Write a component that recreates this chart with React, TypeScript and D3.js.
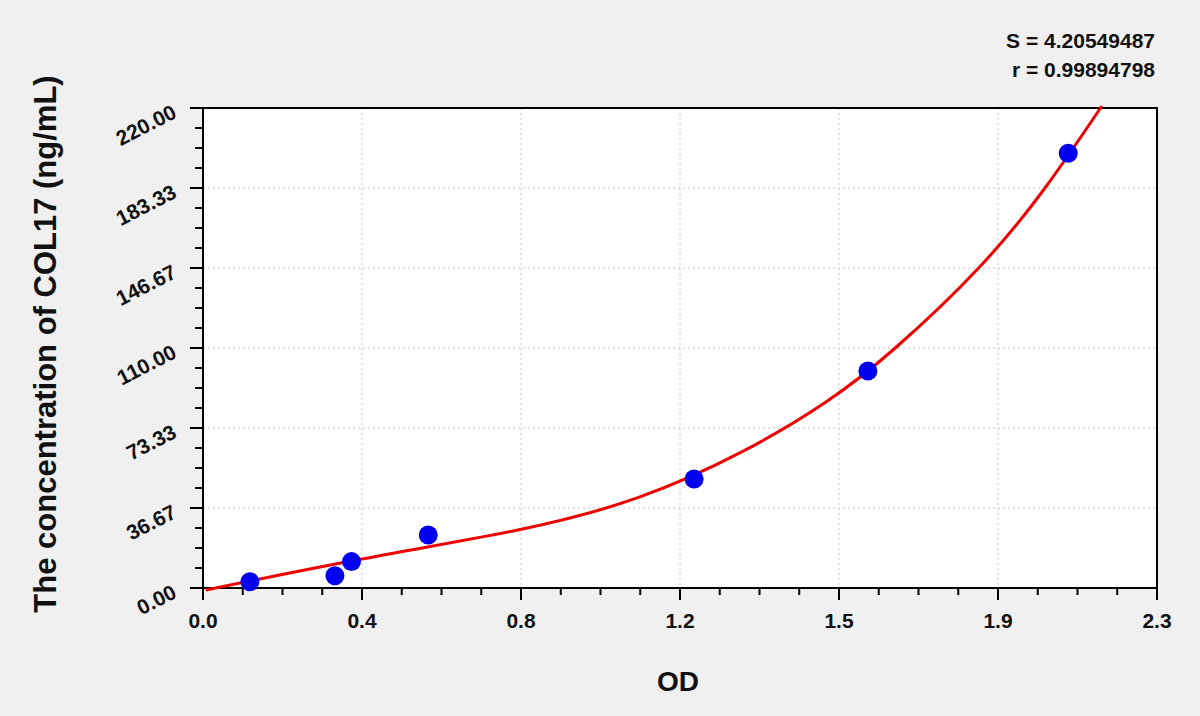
import React from "react";
import * as d3 from "d3";

// Standard points (OD, concentration ng/mL)
const pointOD = [0.113, 0.318, 0.358, 0.543, 1.184, 1.603, 2.086];
const pointConc = [2.9, 5.6, 12.1, 24.3, 50.0, 99.5, 199.3];

// Fitted curve
const curveOD = [0.007, 0.383, 0.759, 1.05, 1.3, 1.5, 1.669, 1.87, 2.03, 2.167];
const curveConc = [-0.9, 13.3, 26.6, 41.5, 62.5, 85.0, 110.0, 146.67, 183.33, 220.9];

const xTickLabels = ["0.0", "0.4", "0.8", "1.2", "1.5", "1.9", "2.3"];
const yTickLabels = ["0.00", "36.67", "73.33", "110.00", "146.67", "183.33", "220.00"];

const xMax = 2.3;
const yMax = 220;
const statS = "S = 4.20549487";
const statR = "r = 0.99894798";
const xTitle = "OD";
const yTitle = "The concentration of COL17 (ng/mL)";

export default function App() {
  const W = 1200, H = 716;
  const L = 203, R = 1157, T = 108, B = 588;
  const x = d3.scaleLinear().domain([0, xMax]).range([L, R]);
  const y = d3.scaleLinear().domain([0, yMax]).range([B, T]);
  const nMajor = xTickLabels.length - 1;
  const xMajor = d3.range(nMajor + 1).map((i) => (i * xMax) / nMajor);
  const yMajor = d3.range(yTickLabels.length).map((i) => (i * yMax) / (yTickLabels.length - 1));
  const xMinor: number[] = [];
  for (let i = 0; i < nMajor; i++) for (let k = 1; k < 4; k++) xMinor.push(xMajor[i] + ((xMajor[i + 1] - xMajor[i]) * k) / 4);
  const yMinor: number[] = [];
  for (let i = 0; i < yMajor.length - 1; i++) for (let k = 1; k < 4; k++) yMinor.push(yMajor[i] + ((yMajor[i + 1] - yMajor[i]) * k) / 4);

  const curveData = curveOD.map((v, i) => [v, curveConc[i]] as [number, number]);
  const line = d3
    .line<[number, number]>()
    .x((d) => x(d[0]))
    .y((d) => y(d[1]))
    .curve(d3.curveNatural);

  const font = "'Liberation Sans', Arial, sans-serif";
  return (
    <svg
      width={W}
      height={H}
      style={{ position: "absolute", left: 0, top: 0, background: "#f0f0f0" }}
      fontFamily={font}
    >
      <rect x={0} y={0} width={W} height={H} fill="#f0f0f0" />
      <rect x={L} y={T} width={R - L} height={B - T} fill="#ffffff" />
      {/* grid */}
      {xMajor.slice(1, -1).map((v, i) => (
        <line key={"gx" + i} x1={x(v)} x2={x(v)} y1={T} y2={B} stroke="#c4c4c4" strokeWidth={1} strokeDasharray="2,3" />
      ))}
      {yMajor.slice(1, -1).map((v, i) => (
        <line key={"gy" + i} x1={L} x2={R} y1={y(v)} y2={y(v)} stroke="#c4c4c4" strokeWidth={1} strokeDasharray="2,3" />
      ))}
      {/* frame */}
      <rect x={L} y={T} width={R - L} height={B - T} fill="none" stroke="#000" strokeWidth={2} />
      {/* x ticks */}
      {xMajor.map((v, i) => (
        <line key={"xt" + i} x1={x(v)} x2={x(v)} y1={B} y2={B + 12} stroke="#000" strokeWidth={2} />
      ))}
      {xMinor.map((v, i) => (
        <line key={"xm" + i} x1={x(v)} x2={x(v)} y1={B} y2={B + 7} stroke="#000" strokeWidth={2} />
      ))}
      {yMajor.map((v, i) => (
        <line key={"yt" + i} x1={L} x2={L - 13} y1={y(v)} y2={y(v)} stroke="#000" strokeWidth={2} />
      ))}
      {yMinor.map((v, i) => (
        <line key={"ym" + i} x1={L} x2={L - 8} y1={y(v)} y2={y(v)} stroke="#000" strokeWidth={2} />
      ))}
      {/* x tick labels */}
      {xMajor.map((v, i) => (
        <text key={"xl" + i} x={x(v)} y={628} textAnchor="middle" fontSize={21} fontWeight="bold" fill="#111">
          {xTickLabels[i]}
        </text>
      ))}
      {/* y tick labels */}
      {yMajor.map((v, i) => (
        <text
          key={"yl" + i}
          x={178}
          y={y(v) + 9}
          textAnchor="end"
          fontSize={21}
          fontWeight="bold"
          fill="#111"
          transform={`rotate(-27, 178, ${y(v) + 9})`}
        >
          {yTickLabels[i]}
        </text>
      ))}
      {/* curve */}
      <path d={line(curveData) || ""} fill="none" stroke="#ee0000" strokeWidth={3} />
      {/* points */}
      {pointOD.map((v, i) => (
        <circle key={"p" + i} cx={x(v)} cy={y(pointConc[i])} r={9.5} fill="#0000ee" />
      ))}
      {/* titles */}
      <text x={678} y={691} textAnchor="middle" fontSize={28} fontWeight="bold" fill="#111">
        {xTitle}
      </text>
      <text
        x={0}
        y={0}
        textAnchor="middle"
        fontSize={31}
        fontWeight="bold"
        fill="#111"
        transform={`translate(56, 344) rotate(-90)`}
      >
        {yTitle}
      </text>
      <text x={1155} y={48} textAnchor="end" fontSize={21} fontWeight="bold" fill="#111">
        {statS}
      </text>
      <text x={1155} y={77} textAnchor="end" fontSize={21} fontWeight="bold" fill="#111">
        {statR}
      </text>
    </svg>
  );
}
